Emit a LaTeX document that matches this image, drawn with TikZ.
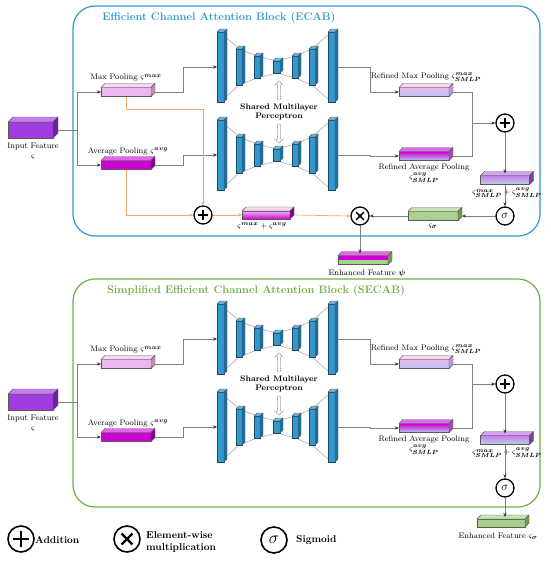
\documentclass[tikz,border=0pt]{standalone}
\usepackage{amsmath,amssymb}
\usetikzlibrary{arrows.meta,shapes.arrows,backgrounds,calc}

\definecolor{ecab}{HTML}{2E9BD2}
\definecolor{secab}{HTML}{70B043}
\definecolor{inF}{HTML}{A23BE2}\definecolor{inT}{HTML}{C57CF0}\definecolor{inS}{HTML}{6F1FA0}
\definecolor{maxF}{HTML}{F0B6EE}\definecolor{maxT}{HTML}{F8D6F6}\definecolor{maxS}{HTML}{C48CC0}
\definecolor{avgF}{HTML}{CC00D0}\definecolor{avgT}{HTML}{E466EC}\definecolor{avgS}{HTML}{88008A}
\definecolor{lblue}{HTML}{B4C6EE}
\definecolor{grnF}{HTML}{A9D18E}\definecolor{grnT}{HTML}{C6E2B2}\definecolor{grnS}{HTML}{6E9A52}
\definecolor{mlpF}{HTML}{3399CC}\definecolor{mlpT}{HTML}{6DB8E0}\definecolor{mlpS}{HTML}{1E6E9C}\definecolor{mlpD}{HTML}{1B4A6B}
\definecolor{sumT}{HTML}{C77AF0}\definecolor{sumB}{HTML}{B8D4DC}
\definecolor{orng}{HTML}{F6A96E}
\definecolor{connc}{HTML}{7F7F7F}

\tikzset{
 boxface/.style={rectangle, draw=black!65, line width=0.4pt, inner sep=0pt, outer sep=0pt},
 faceline/.style={draw=black!65, line width=0.4pt, line join=round},
 conn/.style={draw=connc, line width=0.6pt},
 arr/.style={conn, -{Stealth[length=4pt,width=3.2pt,color=black!80]}},
 oarr/.style={draw=orng, line width=0.7pt, -{Stealth[length=4pt,width=3.2pt,color=orng]}},
 mlpline/.style={draw=gray!75, line width=0.5pt},
 op/.style={circle, draw=black, line width=1.3pt, inner sep=0pt},
 plusop/.style={op, minimum size=#1, path picture={\draw[line width=0.09*#1] ([xshift=-0.29*#1]path picture bounding box.center) -- ([xshift=0.29*#1]path picture bounding box.center) ([yshift=-0.29*#1]path picture bounding box.center) -- ([yshift=0.29*#1]path picture bounding box.center);}},
 plusop/.default=18pt,
 mulop/.style={op, minimum size=#1, path picture={\draw[line width=0.09*#1] ([shift={(-0.21*#1,-0.21*#1)}]path picture bounding box.center) -- ([shift={(0.21*#1,0.21*#1)}]path picture bounding box.center) ([shift={(-0.21*#1,0.21*#1)}]path picture bounding box.center) -- ([shift={(0.21*#1,-0.21*#1)}]path picture bounding box.center);}},
 mulop/.default=18pt,
 sigop/.style={op, minimum size=18pt, font=\fontsize{13}{13}\selectfont},
 lbl/.style={font=\fontsize{8}{9.5}\selectfont, inner sep=0pt},
 blbl/.style={font=\bfseries\fontsize{8}{9.5}\selectfont, inner sep=0pt},
 ttl/.style={font=\bfseries\fontsize{11}{12.5}\selectfont, inner sep=0pt},
 lgd/.style={font=\bfseries\fontsize{10}{12.5}\selectfont, inner sep=0pt, anchor=west, align=left},
 sharr/.style={single arrow, draw=gray!85!black, dash pattern=on 1pt off 0.8pt, fill=white, line width=0.5pt, minimum height=19pt, minimum width=8pt, single arrow head extend=1.5pt, inner sep=0.6pt},
 halffill/.style 2 args={path picture={\fill[#1] (path picture bounding box.north west) rectangle (path picture bounding box.east); \fill[#2] (path picture bounding box.west) rectangle (path picture bounding box.south east);}},
}

% name, cx, cy, width, height, front style, top colour, side colour, depth
\newcommand{\cube}[9]{%
 \node[boxface, minimum width=#4, minimum height=#5, #6] (#1) at (#2,#3) {};
 \filldraw[faceline, fill=#7] (#1.north west) -- ++(#9,-#9) -- ++(#4,0) -- (#1.north east) -- cycle;
 \filldraw[faceline, fill=#8] (#1.north east) -- ++(#9,-#9) -- ++(0,#5) -- (#1.south east) -- cycle;
 \coordinate (#1-r) at ([xshift=#9]#1.east);
}
\newcommand{\mlpbar}[5]{\cube{#1}{#2}{#3}{#4}{#5}{fill=mlpF, draw=mlpD}{mlpT}{mlpS}{3}}
\newcommand{\mlpnet}[2]{%
 \mlpbar{#1a}{220.5}{#2}{7}{70}
 \mlpbar{#1b}{239}{#2}{6}{36}
 \mlpbar{#1c}{257}{#2}{6}{22}
 \mlpbar{#1d}{276.5}{#2}{7}{12}
 \mlpbar{#1e}{295}{#2}{6}{22}
 \mlpbar{#1f}{312}{#2}{6}{36}
 \mlpbar{#1g}{331.5}{#2}{7}{70}
 \begin{pgfonlayer}{background}
 \draw[mlpline] (#1a.north) -- (#1b.north) -- (#1c.north) -- (#1d.north) -- (#1e.north) -- (#1f.north) -- (#1g.north);
 \draw[mlpline] (#1a.south) -- (#1b.south) -- (#1c.south) -- (#1d.south) -- (#1e.south) -- (#1f.south) -- (#1g.south);
 \end{pgfonlayer}
}

\begin{document}
\begin{tikzpicture}[x=1pt,y=-1pt]
\useasboundingbox (0,0) rectangle (550,563);

% ---------------- frames
\draw[ecab, line width=1.2pt, rounded corners=22pt] (73,6) rectangle (540,236);
\node[ttl, text=ecab] (tA) at (219,18) {Efficient Channel Attention Block (ECAB)};
\draw[secab, line width=1.2pt, rounded corners=22pt] (73,279) rectangle (540,507);
\node[ttl, text=secab] (tB) at (256,291) {Simplified Efficient Channel Attention Block (SECAB)};

% ================= ECAB
\cube{inA}{30.5}{130}{45}{16}{fill=inF}{inT}{inS}{5}
\cube{maxA}{126}{92}{50}{9}{fill=maxF}{maxT}{maxS}{4}
\cube{avgA}{126}{165}{50}{9}{fill=avgF}{avgT}{avgS}{4}
\mlpnet{pA}{67}
\mlpnet{qA}{155}
\cube{rmaxA}{424}{92}{50}{9}{top color=maxF, bottom color=lblue}{maxT}{maxS!70!lblue}{4}
\cube{ravgA}{424}{156}{50}{9}{top color=avgF, bottom color=lblue}{avgT}{avgS!60!lblue}{4}
\cube{sumA}{505}{180}{49}{9}{top color=sumT, bottom color=sumB}{sumT!70!white}{sumT!60!black}{4}
\cube{xsA}{266}{215}{48}{8}{top color=maxF, bottom color=avgF}{maxT}{avgS}{4}
\cube{sA}{433}{216}{50}{9}{fill=grnF}{grnT}{grnS}{4}
\cube{enhA}{363}{260}{50}{9}{halffill={avgF}{grnF}}{avgT}{grnS}{4}

\node[plusop] (addA) at (203,215) {};
\node[mulop] (mulA) at (360,216) {};
\node[plusop] (plusA) at (505,123) {};
\node[sigop] (sigA) at (505,216) {$\sigma$};

\node[lbl, align=center] (inAl) at (33,151) {Input Feature\\$\varsigma$};
\node[lbl] (maxAl) at (126,78) {Max Pooling $\varsigma^{\boldsymbol{max}}$};
\node[lbl] (avgAl) at (128,151) {Average Pooling $\varsigma^{\boldsymbol{avg}}$};
\node[lbl] (rmaxAl) at (426,77) {Refined Max Pooling $\varsigma^{\boldsymbol{max}}_{\boldsymbol{SMLP}}$};
\node[lbl, align=center] (ravgAl) at (424,173) {Refined Average Pooling\\$\varsigma^{\boldsymbol{avg}}_{\boldsymbol{SMLP}}$};
\node[lbl] (sumAl) at (507,193) {$\varsigma^{\boldsymbol{max}}_{\boldsymbol{SMLP}}+\varsigma^{\boldsymbol{avg}}_{\boldsymbol{SMLP}}$};
\node[lbl] (sAl) at (433,226) {$\varsigma_{\boldsymbol{\sigma}}$};
\node[lbl] (xsAl) at (262,226) {$\varsigma^{\boldsymbol{max}}+\varsigma^{\boldsymbol{avg}}$};
\node[lbl] (enhAl) at (367,273) {Enhanced Feature $\boldsymbol{\psi}$};
\node[sharr, shape border rotate=90] (upA) at (279,91) {};
\node[sharr, shape border rotate=270] (dnA) at (279,133) {};
\node[blbl, align=center] (shA) at (279,112) {Shared Multilayer\\Perceptron};

\coordinate (jA) at (77,130);
\coordinate (jB) at (472,123);
\draw[conn] (inA-r) -- (jA);
\draw[arr] (jA) |- (maxA.west);
\draw[arr] (jA) |- (avgA.west);
\draw[arr] (maxA-r) -- ++(28,0) |- (pAa.west);
\draw[arr] (avgA-r) -- ++(28,0) |- (qAa.west);
\draw[arr] (pAg-r) -- ++(32,0) |- (rmaxA.west);
\draw[arr] (qAg-r) -- ++(32,0) |- (ravgA.west);
\draw[conn] (rmaxA-r) -| (jB);
\draw[conn] (ravgA-r) -| (jB);
\draw[arr] (jB) -- (plusA.west);
\draw[arr] (plusA.south) -- ([yshift=2pt]plusA.south |- sumA.north);
\draw[arr] (sumA.south -| sigA.north) -- (sigA.north);
\draw[arr] (sigA.west) -- (sA-r);
\draw[arr] (sA.west) -- (mulA.east);
\draw[arr] (mulA.south) -- ([yshift=2pt]mulA.south |- enhA.north);
\draw[oarr] (maxA.south) -- ++(0,13) -| (addA.north);
\draw[oarr] (avgA.south) |- (addA.west);
\draw[oarr] (addA.east) -- (xsA.west);
\draw[oarr] (xsA-r) -- (mulA.west);

% ================= SECAB
\cube{inB}{30.5}{402}{45}{16}{fill=inF}{inT}{inS}{5}
\cube{maxB}{126}{364}{50}{9}{fill=maxF}{maxT}{maxS}{4}
\cube{avgB}{126}{437}{50}{9}{fill=avgF}{avgT}{avgS}{4}
\mlpnet{pB}{339}
\mlpnet{qB}{427}
\cube{rmaxB}{424}{364}{50}{9}{top color=maxF, bottom color=lblue}{maxT}{maxS!70!lblue}{4}
\cube{ravgB}{424}{428}{50}{9}{top color=avgF, bottom color=lblue}{avgT}{avgS!60!lblue}{4}
\cube{sumB}{505}{440}{49}{9}{top color=sumT, bottom color=sumB}{sumT!70!white}{sumT!60!black}{4}
\cube{enhB}{501}{523}{48}{8}{fill=grnF}{grnT}{grnS}{4}

\node[plusop] (plusB) at (505,384) {};
\node[sigop] (sigB) at (505,488) {$\sigma$};

\node[lbl, align=center] (inBl) at (33,423) {Input Feature\\$\varsigma$};
\node[lbl] (maxBl) at (126,350) {Max Pooling $\varsigma^{\boldsymbol{max}}$};
\node[lbl] (avgBl) at (128,423) {Average Pooling $\varsigma^{\boldsymbol{avg}}$};
\node[lbl] (rmaxBl) at (426,349) {Refined Max Pooling $\varsigma^{\boldsymbol{max}}_{\boldsymbol{SMLP}}$};
\node[lbl, align=center] (ravgBl) at (424,445) {Refined Average Pooling\\$\varsigma^{\boldsymbol{avg}}_{\boldsymbol{SMLP}}$};
\node[lbl] (sumBl) at (507,453) {$\varsigma^{\boldsymbol{max}}_{\boldsymbol{SMLP}}+\varsigma^{\boldsymbol{avg}}_{\boldsymbol{SMLP}}$};
\node[lbl] (enhBl) at (498,536) {Enhanced Feature $\varsigma_{\boldsymbol{\sigma}}$};
\node[sharr, shape border rotate=90] (upB) at (279,363) {};
\node[sharr, shape border rotate=270] (dnB) at (279,405) {};
\node[blbl, align=center] (shB) at (279,384) {Shared Multilayer\\Perceptron};

\coordinate (jC) at (77,402);
\coordinate (jD) at (472,384);
\draw[conn] (inB-r) -- (jC);
\draw[arr] (jC) |- (maxB.west);
\draw[arr] (jC) |- (avgB.west);
\draw[arr] (maxB-r) -- ++(28,0) |- (pBa.west);
\draw[arr] (avgB-r) -- ++(28,0) |- (qBa.west);
\draw[arr] (pBg-r) -- ++(32,0) |- (rmaxB.west);
\draw[arr] (qBg-r) -- ++(32,0) |- (ravgB.west);
\draw[conn] (rmaxB-r) -| (jD);
\draw[conn] (ravgB-r) -| (jD);
\draw[arr] (jD) -- (plusB.west);
\draw[arr] (plusB.south) -- ([yshift=2pt]plusB.south |- sumB.north);
\draw[arr] (sumB.south -| sigB.north) -- (sigB.north);
\draw[arr] (sigB.south) -- ([yshift=2pt]sigB.south |- enhB.north);

% ================= legend
\node[plusop=26pt, line width=1.6pt] (lgP) at (21,539) {};
\node[lgd] (lgPt) at (35,540) {Addition};
\node[mulop=26pt, line width=1.6pt] (lgM) at (127,539) {};
\node[lgd] (lgMt) at (146,542) {Element-wise\\multiplication};
\node[op, minimum size=26pt, line width=1.6pt, font=\fontsize{17}{17}\selectfont] (lgS) at (274,540) {$\sigma$};
\node[lgd] (lgSt) at (296,540) {Sigmoid};
\end{tikzpicture}
\end{document}
